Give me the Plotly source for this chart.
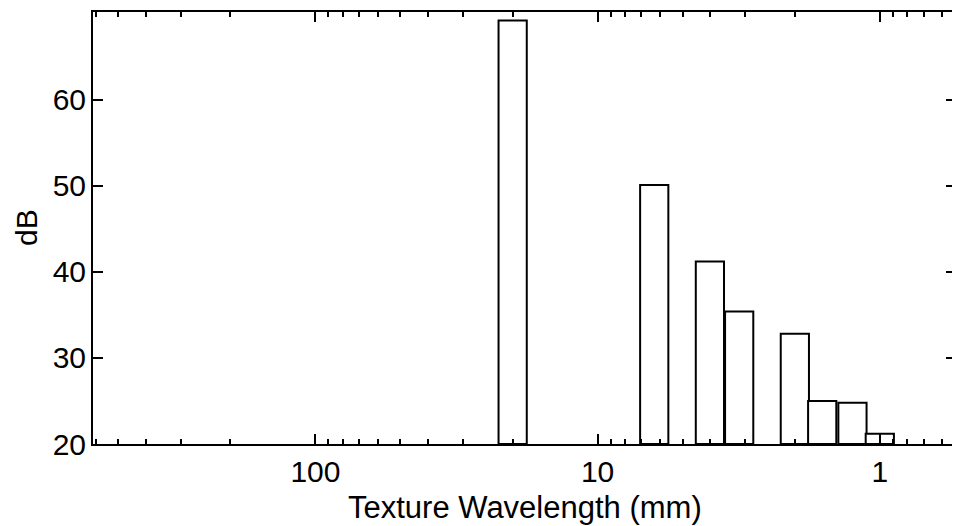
import numpy as np
import plotly.graph_objects as go

# Third-octave band centre wavelengths (mm) and levels (dB)
band_centres_mm = [20.0, 6.3, 4.0, 3.15, 2.0, 1.6, 1.25, 1.0]
levels_db = [69.2, 50.1, 41.2, 35.4, 32.8, 25.0, 24.8, 21.2]

x_tick_vals = [100, 10, 1]
x_tick_text = ["100", "10", "1"]
y_tick_vals = [20, 30, 40, 50, 60]

y_base = 20
half_band = 10 ** 0.05  # third-octave half-width factor

fig = go.Figure()
for c, v in zip(band_centres_mm, levels_db):
    lo, hi = c / half_band, c * half_band
    fig.add_trace(go.Scatter(
        x=[lo, lo, hi, hi, lo], y=[y_base, v, v, y_base, y_base],
        mode="lines", fill="toself", fillcolor="white",
        line=dict(color="black", width=2), showlegend=False, hoverinfo="skip"))

minor_vals = [m * d for d in [0.1, 1, 10, 100] for m in range(2, 10)]

font = dict(family="Liberation Sans, Arial, sans-serif", size=30, color="black")
title_font = dict(family="Liberation Sans, Arial, sans-serif", size=31, color="black")

fig.update_layout(
    width=952, height=518,
    margin=dict(l=85, r=2, t=2, b=82),
    paper_bgcolor="white", plot_bgcolor="white",
    font=font,
    xaxis=dict(
        type="log", range=[np.log10(614), np.log10(0.537)],
        tickvals=x_tick_vals, ticktext=x_tick_text,
        ticks="inside", ticklen=10, tickwidth=2, tickcolor="black",
        showline=True, linecolor="black", linewidth=2, mirror="ticks",
        showgrid=False, zeroline=False,
        minor=dict(tickvals=minor_vals, ticks="inside", ticklen=5,
                   tickwidth=1.5, tickcolor="black", showgrid=False),
        tickfont=font,
    ),
    yaxis=dict(
        range=[20, 70.2], tickvals=y_tick_vals,
        ticks="inside", ticklen=10, tickwidth=2, tickcolor="black",
        showline=True, linecolor="black", linewidth=2, mirror="ticks",
        showgrid=False, zeroline=False, tickfont=font,
        ticklabelstandoff=-1,
    ),
    annotations=[
        dict(text="Texture Wavelength (mm)", xref="paper", yref="paper",
             x=0.5, y=0, xanchor="center", yanchor="top", yshift=-44,
             showarrow=False, font=title_font),
        dict(text="dB", xref="paper", yref="paper", x=0, y=0.5,
             xanchor="center", yanchor="middle", xshift=-67, textangle=-90,
             showarrow=False, font=font),
    ],
)

fig.write_html("out.html")
